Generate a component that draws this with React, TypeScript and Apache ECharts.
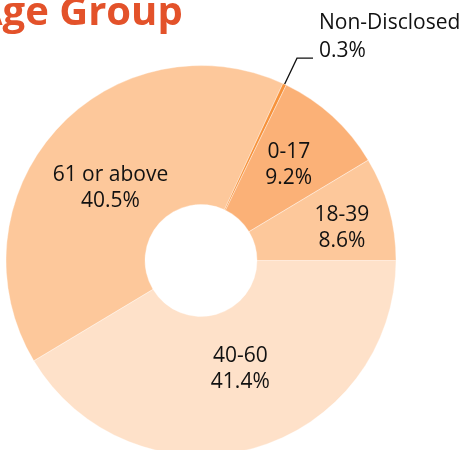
import React, { useEffect, useRef } from "react";
import * as echarts from "echarts";

const categories = ["40-60", "61 or above", "Non-Disclosed", "0-17", "18-39"];
const shares = [41.4, 40.5, 0.3, 9.2, 8.6];
const colors = ["#fee1c9", "#fdc89b", "#f7923a", "#fbb177", "#fdc89b"];
const titleText = "Age Group";

export default function App() {
  const ref = useRef<HTMLDivElement>(null);
  useEffect(() => {
    const chart = echarts.init(ref.current!, null, { renderer: "svg" });
    const FONT = "'Open Sans', sans-serif";
    const offsets: Record<string, [number, number]> = {
      "40-60": [5, -17],
      "61 or above": [5, 11],
      "0-17": [1, -3],
      "18-39": [17, 0],
    };
    const data = categories.map((c, i) => {
      const item: any = {
        name: c,
        value: shares[i],
        itemStyle: { color: colors[i] },
      };
      if (c === "Non-Disclosed") {
        item.label = {
          show: true,
          position: "outside",
          align: "left",
          distanceToLabelLine: 6,
          formatter: (p: any) => `{t|${p.name}}\n{t|${p.value}%}\n{s| }`,
          rich: {
            t: { fontFamily: FONT, fontSize: 21, lineHeight: 28, color: "#111" },
            s: { fontSize: 1, lineHeight: 46 },
          },
        };
        item.labelLine = {
          show: true,
          length: 29,
          length2: 16,
          lineStyle: { color: "#111", width: 1.3 },
        };
      }
      return item;
    });
    chart.setOption({
      animation: false,
      graphic: [
        {
          type: "text",
          x: -25,
          y: 9,
          style: {
            text: titleText,
            font: `bold 40px ${FONT}`,
            fill: "#e3522a",
            textVerticalAlign: "middle",
          },
        },
      ],
      series: [
        {
          type: "pie",
          center: [201, 260.5],
          radius: [56, 195],
          startAngle: 0,
          clockwise: true,
          avoidLabelOverlap: false,
          itemStyle: { borderColor: "rgba(255,255,255,0.45)", borderWidth: 0.8 },
          label: {
            show: true,
            position: "inside",
            formatter: (p: any) => `${p.name}\n${p.value}%`,
            fontFamily: FONT,
            fontSize: 21,
            lineHeight: 26,
            color: "#111",
          },
          labelLine: { show: false },
          labelLayout: (p: any) => {
            const o = offsets[categories[p.dataIndex]];
            return o ? { dx: o[0], dy: o[1] } : {};
          },
          emphasis: { disabled: true },
          data,
        },
      ],
    });
    return () => chart.dispose();
  }, []);
  return (
    <div
      ref={ref}
      style={{ position: "fixed", left: 0, top: 0, width: 466, height: 450 }}
    />
  );
}
